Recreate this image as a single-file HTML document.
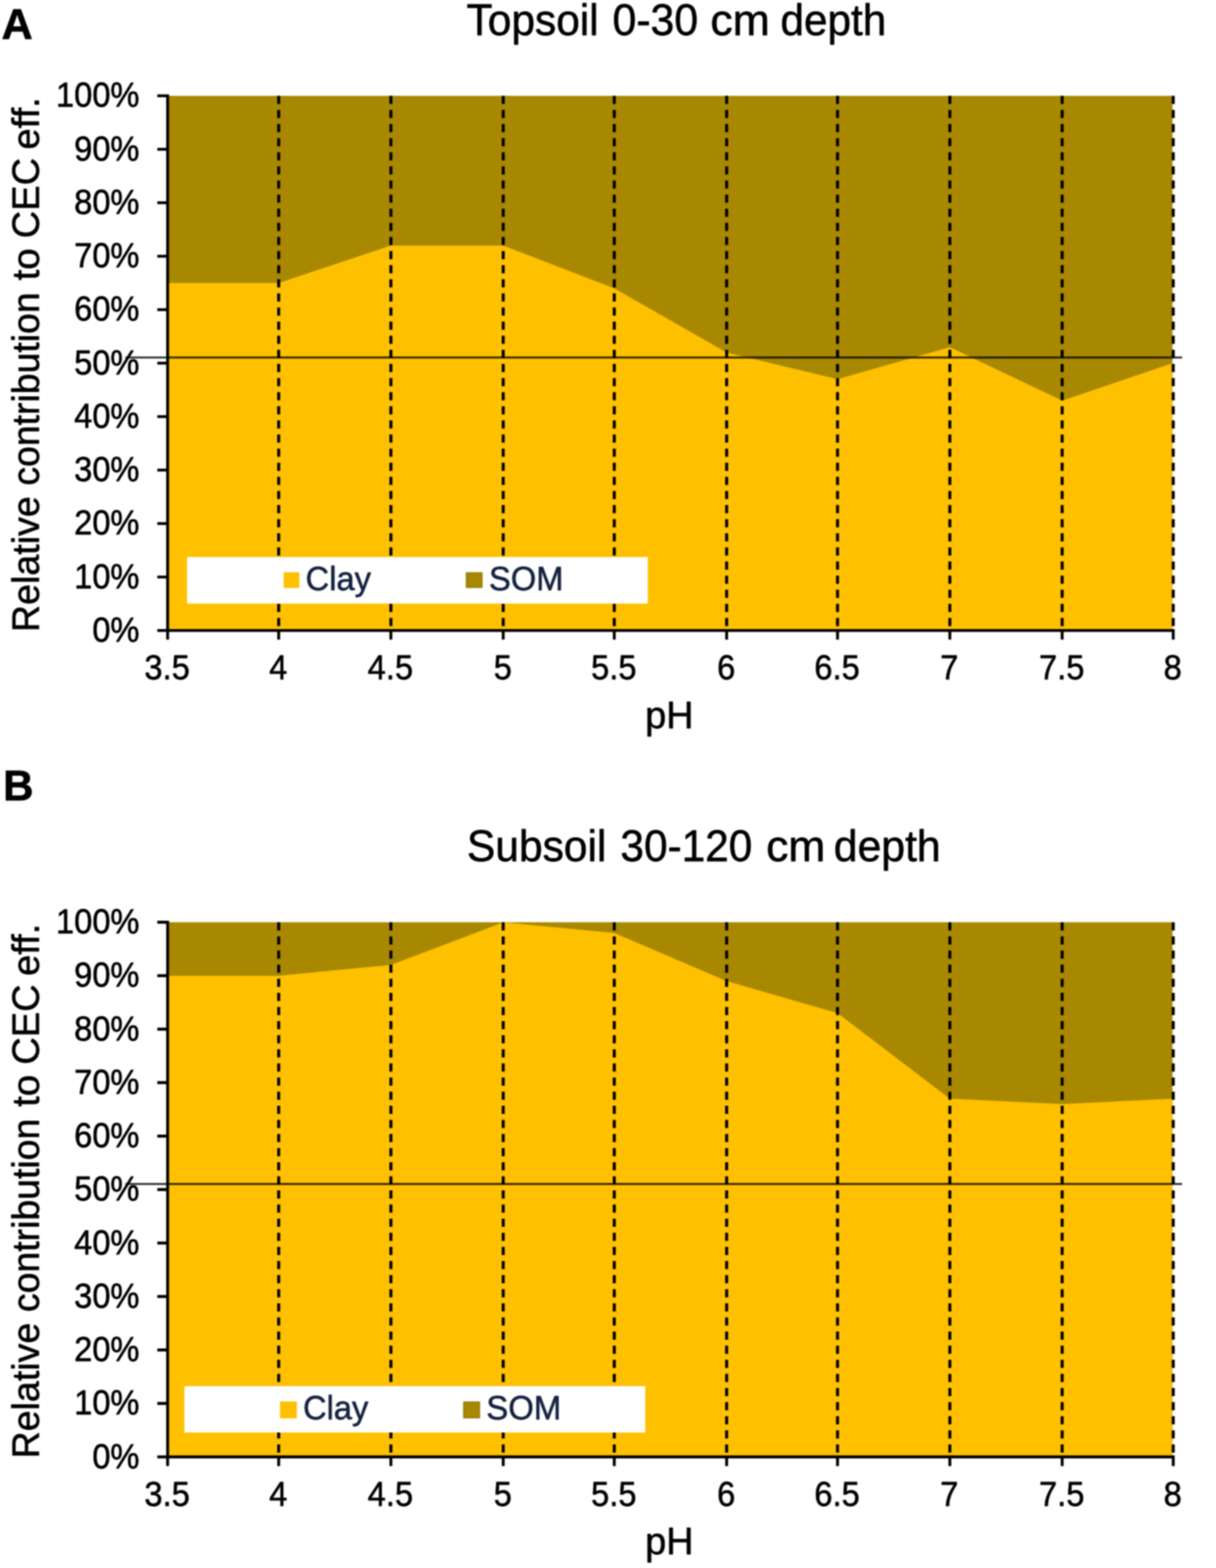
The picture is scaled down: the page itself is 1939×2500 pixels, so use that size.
<!DOCTYPE html>
<html lang="en"><head><meta charset="utf-8"><title>Relative contribution of clay and SOM to CEC eff.</title>
<style>
html,body{margin:0;padding:0;background:#fff;}
body{width:1939px;height:2500px;}
svg{display:block;}
text{font-family:"Liberation Sans",Arial,Helvetica,sans-serif;fill:#000;stroke:#000;stroke-width:0.9px;stroke-linejoin:round;}
.tk{font-size:54.8px;}
.ax{stroke:#000;stroke-width:4.6;fill:none;}
.ds{stroke:#000;stroke-width:4.8;stroke-dasharray:13 9.5;fill:none;}
.hl{stroke:#000;stroke-opacity:0.85;stroke-width:3.1;fill:none;}
</style></head><body>
<svg width="1939" height="2500" viewBox="0 0 1939 2500">
<rect x="0" y="0" width="1939" height="2500" fill="#fff"/>
<defs><filter id="soft" x="0" y="0" width="1939" height="2500" filterUnits="userSpaceOnUse" color-interpolation-filters="sRGB"><feGaussianBlur stdDeviation="0.8"/></filter></defs>
<g filter="url(#soft)">
<rect x="-10" y="-10" width="1959" height="2520" fill="#fff"/>
<g id="panel-a">
<rect x="267.3" y="152.8" width="1602.3" height="852.5" fill="#A78800"/>
<polygon points="267.3,451.17 444.4,451.17 623.3,391.5 802.4,391.5 979.5,459.7 1158.7,562 1335.5,604.62 1514.6,553.47 1693.7,638.72 1869.6,579.05 1869.6,1005.3 267.3,1005.3" fill="#FFC000"/>
<path class="ds" d="M444.4 152.8V1005.3 M623.3 152.8V1005.3 M802.4 152.8V1005.3 M979.5 152.8V1005.3 M1158.7 152.8V1005.3 M1335.5 152.8V1005.3 M1514.6 152.8V1005.3 M1693.7 152.8V1005.3 M1870.8 152.8V1005.3"/>
<rect x="298.3" y="888.2" width="734.6" height="74.1" fill="#fff"/>
<rect x="452.3" y="912.4" width="25" height="25" fill="#FFC000"/>
<text y="940.7" style="font-size:54.4px;fill:#14223F;stroke:#14223F;"><tspan x="487.37" textLength="104.19" lengthAdjust="spacingAndGlyphs">Clay</tspan></text>
<rect x="743.55" y="913.15" width="25.1" height="23.5" fill="#A78800" stroke="#8E7300" stroke-width="1.5"/>
<text y="940.7" style="font-size:54.4px;fill:#14223F;stroke:#14223F;"><tspan x="779.8" textLength="118.72" lengthAdjust="spacingAndGlyphs">SOM</tspan></text>
<path class="hl" d="M200 570H1885"/>
<path class="ax" d="M267.3 150.5V1019.8M250.8 1005.3H1873.1M250.8 920.05H267.3M250.8 834.8H267.3M250.8 749.55H267.3M250.8 664.3H267.3M250.8 579.05H267.3M250.8 493.8H267.3M250.8 408.55H267.3M250.8 323.3H267.3M250.8 238.05H267.3M250.8 152.8H267.3M444.4 1005.3V1019.8M623.3 1005.3V1019.8M802.4 1005.3V1019.8M979.5 1005.3V1019.8M1158.7 1005.3V1019.8M1335.5 1005.3V1019.8M1514.6 1005.3V1019.8M1693.7 1005.3V1019.8M1870.8 1005.3V1019.8"/>
<text class="tk" text-anchor="end" transform="translate(222.4 1022.9) scale(0.95 1)">0%</text>
<text class="tk" text-anchor="end" transform="translate(222.4 937.65) scale(0.95 1)">10%</text>
<text class="tk" text-anchor="end" transform="translate(222.4 852.4) scale(0.95 1)">20%</text>
<text class="tk" text-anchor="end" transform="translate(222.4 767.15) scale(0.95 1)">30%</text>
<text class="tk" text-anchor="end" transform="translate(222.4 681.9) scale(0.95 1)">40%</text>
<text class="tk" text-anchor="end" transform="translate(222.4 596.65) scale(0.95 1)">50%</text>
<text class="tk" text-anchor="end" transform="translate(222.4 511.4) scale(0.95 1)">60%</text>
<text class="tk" text-anchor="end" transform="translate(222.4 426.15) scale(0.95 1)">70%</text>
<text class="tk" text-anchor="end" transform="translate(222.4 340.9) scale(0.95 1)">80%</text>
<text class="tk" text-anchor="end" transform="translate(222.4 255.65) scale(0.95 1)">90%</text>
<text class="tk" text-anchor="end" transform="translate(222.4 170.4) scale(0.95 1)">100%</text>
<text class="tk" text-anchor="middle" transform="translate(266.5 1083.2) scale(0.95 1)">3.5</text>
<text class="tk" text-anchor="middle" transform="translate(443.6 1083.2) scale(0.95 1)">4</text>
<text class="tk" text-anchor="middle" transform="translate(622.5 1083.2) scale(0.95 1)">4.5</text>
<text class="tk" text-anchor="middle" transform="translate(801.6 1083.2) scale(0.95 1)">5</text>
<text class="tk" text-anchor="middle" transform="translate(978.7 1083.2) scale(0.95 1)">5.5</text>
<text class="tk" text-anchor="middle" transform="translate(1157.9 1083.2) scale(0.95 1)">6</text>
<text class="tk" text-anchor="middle" transform="translate(1334.7 1083.2) scale(0.95 1)">6.5</text>
<text class="tk" text-anchor="middle" transform="translate(1513.8 1083.2) scale(0.95 1)">7</text>
<text class="tk" text-anchor="middle" transform="translate(1692.9 1083.2) scale(0.95 1)">7.5</text>
<text class="tk" text-anchor="middle" transform="translate(1870 1083.2) scale(0.95 1)">8</text>
<text y="55.7" style="font-size:70.2px;"><tspan x="744.05" textLength="210.51" lengthAdjust="spacingAndGlyphs">Topsoil</tspan> <tspan x="976.73" textLength="136.53" lengthAdjust="spacingAndGlyphs">0-30</tspan> <tspan x="1132.76" textLength="94.87" lengthAdjust="spacingAndGlyphs">cm</tspan> <tspan x="1244.52" textLength="168.85" lengthAdjust="spacingAndGlyphs">depth</tspan></text>
<text y="1160.8" style="font-size:61.8px;"><tspan x="1028.69" textLength="77.19" lengthAdjust="spacingAndGlyphs">pH</tspan></text>
<text transform="translate(62 0) rotate(-90)" style="font-size:61.8px;"><tspan x="-1007.64" textLength="216.32" lengthAdjust="spacingAndGlyphs">Relative</tspan> <tspan x="-774.35" textLength="308.31" lengthAdjust="spacingAndGlyphs">contribution</tspan> <tspan x="-447.09" textLength="51.12" lengthAdjust="spacingAndGlyphs">to</tspan> <tspan x="-379.99" textLength="128.24" lengthAdjust="spacingAndGlyphs">CEC</tspan> <tspan x="-238.51" textLength="83.49" lengthAdjust="spacingAndGlyphs">eff.</tspan></text>
<text y="62.3" style="font-size:69px;font-weight:bold;"><tspan x="2.46" textLength="49.68" lengthAdjust="spacingAndGlyphs">A</tspan></text>
</g>
<g id="panel-b">
<rect x="267.3" y="1470.4" width="1602.3" height="852.5" fill="#A78800"/>
<polygon points="267.3,1555.65 444.4,1555.65 623.3,1538.6 802.4,1470.4 979.5,1487.45 1158.7,1564.17 1335.5,1615.32 1514.6,1751.72 1693.7,1760.25 1869.6,1751.72 1869.6,2322.9 267.3,2322.9" fill="#FFC000"/>
<path class="ds" d="M444.4 1470.4V2322.9 M623.3 1470.4V2322.9 M802.4 1470.4V2322.9 M979.5 1470.4V2322.9 M1158.7 1470.4V2322.9 M1335.5 1470.4V2322.9 M1514.6 1470.4V2322.9 M1693.7 1470.4V2322.9 M1870.8 1470.4V2322.9"/>
<rect x="294.1" y="2210.1" width="734.8" height="73.9" fill="#fff"/>
<rect x="446.5" y="2234.5" width="26.9" height="26.9" fill="#FFC000"/>
<text y="2262.7" style="font-size:54.4px;fill:#14223F;stroke:#14223F;"><tspan x="483.17" textLength="104.19" lengthAdjust="spacingAndGlyphs">Clay</tspan></text>
<rect x="739.35" y="2235.25" width="25.4" height="25.4" fill="#A78800" stroke="#8E7300" stroke-width="1.5"/>
<text y="2262.7" style="font-size:54.4px;fill:#14223F;stroke:#14223F;"><tspan x="775.59" textLength="119.25" lengthAdjust="spacingAndGlyphs">SOM</tspan></text>
<path class="hl" d="M200 1887.7H1885"/>
<path class="ax" d="M267.3 1468.1V2337.4M250.8 2322.9H1873.1M250.8 2237.65H267.3M250.8 2152.4H267.3M250.8 2067.15H267.3M250.8 1981.9H267.3M250.8 1896.65H267.3M250.8 1811.4H267.3M250.8 1726.15H267.3M250.8 1640.9H267.3M250.8 1555.65H267.3M250.8 1470.4H267.3M444.4 2322.9V2337.4M623.3 2322.9V2337.4M802.4 2322.9V2337.4M979.5 2322.9V2337.4M1158.7 2322.9V2337.4M1335.5 2322.9V2337.4M1514.6 2322.9V2337.4M1693.7 2322.9V2337.4M1870.8 2322.9V2337.4"/>
<text class="tk" text-anchor="end" transform="translate(222.4 2340.5) scale(0.95 1)">0%</text>
<text class="tk" text-anchor="end" transform="translate(222.4 2255.25) scale(0.95 1)">10%</text>
<text class="tk" text-anchor="end" transform="translate(222.4 2170) scale(0.95 1)">20%</text>
<text class="tk" text-anchor="end" transform="translate(222.4 2084.75) scale(0.95 1)">30%</text>
<text class="tk" text-anchor="end" transform="translate(222.4 1999.5) scale(0.95 1)">40%</text>
<text class="tk" text-anchor="end" transform="translate(222.4 1914.25) scale(0.95 1)">50%</text>
<text class="tk" text-anchor="end" transform="translate(222.4 1829) scale(0.95 1)">60%</text>
<text class="tk" text-anchor="end" transform="translate(222.4 1743.75) scale(0.95 1)">70%</text>
<text class="tk" text-anchor="end" transform="translate(222.4 1658.5) scale(0.95 1)">80%</text>
<text class="tk" text-anchor="end" transform="translate(222.4 1573.25) scale(0.95 1)">90%</text>
<text class="tk" text-anchor="end" transform="translate(222.4 1488) scale(0.95 1)">100%</text>
<text class="tk" text-anchor="middle" transform="translate(266.5 2400.8) scale(0.95 1)">3.5</text>
<text class="tk" text-anchor="middle" transform="translate(443.6 2400.8) scale(0.95 1)">4</text>
<text class="tk" text-anchor="middle" transform="translate(622.5 2400.8) scale(0.95 1)">4.5</text>
<text class="tk" text-anchor="middle" transform="translate(801.6 2400.8) scale(0.95 1)">5</text>
<text class="tk" text-anchor="middle" transform="translate(978.7 2400.8) scale(0.95 1)">5.5</text>
<text class="tk" text-anchor="middle" transform="translate(1157.9 2400.8) scale(0.95 1)">6</text>
<text class="tk" text-anchor="middle" transform="translate(1334.7 2400.8) scale(0.95 1)">6.5</text>
<text class="tk" text-anchor="middle" transform="translate(1513.8 2400.8) scale(0.95 1)">7</text>
<text class="tk" text-anchor="middle" transform="translate(1692.9 2400.8) scale(0.95 1)">7.5</text>
<text class="tk" text-anchor="middle" transform="translate(1870 2400.8) scale(0.95 1)">8</text>
<text y="1372.9" style="font-size:70.2px;"><tspan x="744.46" textLength="222.49" lengthAdjust="spacingAndGlyphs">Subsoil</tspan> <tspan x="989.36" textLength="210.15" lengthAdjust="spacingAndGlyphs">30-120</tspan> <tspan x="1221.67" textLength="94.43" lengthAdjust="spacingAndGlyphs">cm</tspan> <tspan x="1329.59" textLength="170.41" lengthAdjust="spacingAndGlyphs">depth</tspan></text>
<text y="2478.4" style="font-size:61.8px;"><tspan x="1028.69" textLength="77.19" lengthAdjust="spacingAndGlyphs">pH</tspan></text>
<text transform="translate(62 0) rotate(-90)" style="font-size:61.8px;"><tspan x="-2325.24" textLength="216.32" lengthAdjust="spacingAndGlyphs">Relative</tspan> <tspan x="-2091.95" textLength="308.31" lengthAdjust="spacingAndGlyphs">contribution</tspan> <tspan x="-1764.69" textLength="51.12" lengthAdjust="spacingAndGlyphs">to</tspan> <tspan x="-1697.59" textLength="128.24" lengthAdjust="spacingAndGlyphs">CEC</tspan> <tspan x="-1556.11" textLength="83.49" lengthAdjust="spacingAndGlyphs">eff.</tspan></text>
<text y="1276.1" style="font-size:69px;font-weight:bold;"><tspan x="4.93" textLength="48.37" lengthAdjust="spacingAndGlyphs">B</tspan></text>
</g>
</g>
</svg>
</body></html>
